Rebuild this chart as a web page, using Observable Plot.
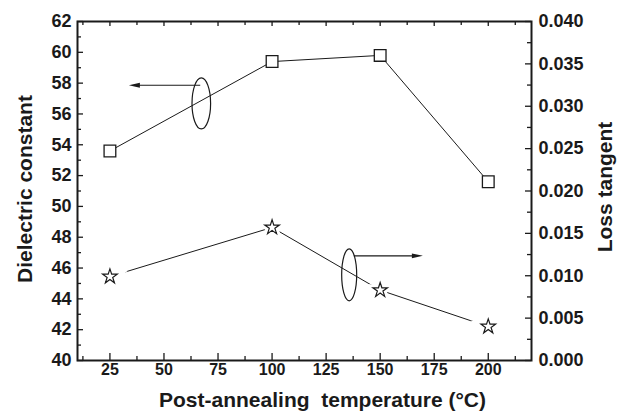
<!DOCTYPE html>
<html><head><meta charset="utf-8">
<script src="https://cdn.jsdelivr.net/npm/d3@7"></script>
<script src="https://cdn.jsdelivr.net/npm/@observablehq/plot@0.6"></script>
<style>body{margin:0;background:#fff} svg{display:block}</style>
</head><body><div id="chart"></div>
<script>
// ---- data ----
const temperatures = [25, 100, 150, 200];
const dielectricConstant = [53.6, 59.4, 59.8, 51.6];
const lossTangent = [0.0099, 0.0157, 0.0083, 0.0040];

const xTicks = [25, 50, 75, 100, 125, 150, 175, 200];
const xMinorTicks = [12.5, 37.5, 62.5, 87.5, 112.5, 137.5, 162.5, 187.5, 212.5];
const leftTicks = [40, 42, 44, 46, 48, 50, 52, 54, 56, 58, 60, 62];
const leftMinorTicks = [41, 43, 45, 47, 49, 51, 53, 55, 57, 59, 61];
const rightTicks = [0, 0.005, 0.010, 0.015, 0.020, 0.025, 0.030, 0.035, 0.040];
const rightMinorTicks = [0.0025, 0.0075, 0.0125, 0.0175, 0.0225, 0.0275, 0.0325, 0.0375];

const xDomain = [10, 220];
const leftDomain = [40, 62];
const rightDomain = [0, 0.04];

const xTitle = "Post-annealing  temperature (°C)";
const leftTitle = "Dielectric constant";
const rightTitle = "Loss tangent";

// annotation anchors (data coordinates)
const ellipseCenters = [{x: 67.5, y: 56.65}, {x: 135.9, y: 45.53}];
const arrowLines = [{x1: 67.0, x2: 34.0, y: 57.83}, {x1: 138.0, x2: 170.0, y: 46.76}];

// ---- helpers ----
const toLeft = v => leftDomain[0] + (v - rightDomain[0]) / (rightDomain[1] - rightDomain[0]) * (leftDomain[1] - leftDomain[0]);

const W = 624, H = 418;
const mL = 77, mR = 93, mT = 21, mB = 58;
const fw = W - mL - mR, fh = H - mT - mB;

const dcData = temperatures.map((t, i) => ({t, v: dielectricConstant[i]}));
const ltData = temperatures.map((t, i) => ({t, v: toLeft(lossTangent[i])}));

const ink = "#1a1a1a";
const tickStyle = {stroke: ink, strokeWidth: 1.3};
const labelStyle = {fontWeight: "bold", fill: ink};

function annotations(index, {x, y}) {
  const g = d3.create("svg:g").attr("stroke", ink).attr("fill", "none").attr("stroke-width", 1.2);
  const sizes = [[9.3, 25.5], [7.5, 26]];
  ellipseCenters.forEach((e, i) => {
    g.append("ellipse").attr("cx", x(e.x)).attr("cy", y(e.y)).attr("rx", sizes[i][0]).attr("ry", sizes[i][1]);
  });
  arrowLines.forEach(a => {
    const X1 = x(a.x1), X2 = x(a.x2), Y = y(a.y);
    const dir = Math.sign(X2 - X1);
    g.append("line").attr("x1", X1).attr("x2", X2 - dir * 8).attr("y1", Y).attr("y2", Y);
    g.append("path").attr("fill", ink).attr("stroke", "none")
      .attr("d", `M${X2},${Y}L${X2 - dir * 11},${Y - 2.4}L${X2 - dir * 11},${Y + 2.4}Z`);
  });
  return g.node();
}

const chart = Plot.plot({
  width: W, height: H,
  marginLeft: mL, marginRight: mR, marginTop: mT, marginBottom: mB,
  style: {fontFamily: "'Liberation Sans', Arial, sans-serif", color: ink, background: "#fff"},
  x: {domain: xDomain, axis: null},
  y: {domain: leftDomain, axis: null},
  marks: [
    // tick labels
    Plot.text(xTicks, {x: d => d, text: d => String(d), frameAnchor: "bottom", dy: 14, textAnchor: "middle", fontSize: 16, ...labelStyle}),
    Plot.text(leftTicks, {y: d => d, text: d => String(d), frameAnchor: "left", dx: -6, textAnchor: "end", fontSize: 18, ...labelStyle}),
    Plot.text(rightTicks, {y: d => toLeft(d), text: d => d.toFixed(3), frameAnchor: "right", dx: 7, textAnchor: "start", fontSize: 18, ...labelStyle}),
    // inward tick marks
    Plot.ruleY(leftTicks, {y: d => d, insetRight: fw - 6, ...tickStyle}),
    Plot.ruleY(leftMinorTicks, {y: d => d, insetRight: fw - 4, ...tickStyle}),
    Plot.ruleY(rightTicks, {y: d => toLeft(d), insetLeft: fw - 6, ...tickStyle}),
    Plot.ruleY(rightMinorTicks, {y: d => toLeft(d), insetLeft: fw - 4, ...tickStyle}),
    Plot.ruleX(xTicks, {x: d => d, insetTop: fh - 7, ...tickStyle}),
    Plot.ruleX(xMinorTicks, {x: d => d, insetTop: fh - 4, ...tickStyle}),
    Plot.ruleX(xTicks, {x: d => d, insetBottom: fh - 5, ...tickStyle}),
    Plot.ruleX(xMinorTicks, {x: d => d, insetBottom: fh - 4, ...tickStyle}),
    // axis titles
    Plot.text([leftTitle], {text: d => d, frameAnchor: "left", dx: -52, dy: -2, rotate: -90, textAnchor: "middle", fontSize: 21, ...labelStyle}),
    Plot.text([rightTitle], {text: d => d, frameAnchor: "right", dx: 74, dy: -4, rotate: -90, textAnchor: "middle", fontSize: 21, ...labelStyle}),
    Plot.text([xTitle], {text: d => d, frameAnchor: "bottom", dx: 18, dy: 46, textAnchor: "middle", fontSize: 21, ...labelStyle}),
    // series
    Plot.line(dcData, {x: "t", y: "v", stroke: ink, strokeWidth: 1}),
    Plot.dot(dcData, {x: "t", y: "v", symbol: "square", r: 6.6, fill: "white", stroke: ink, strokeWidth: 1.3}),
    Plot.line(ltData, {x: "t", y: "v", stroke: ink, strokeWidth: 1}),
    Plot.dot(ltData, {x: "t", y: "v", symbol: "star", r: 4.6, fill: "white", stroke: "white", strokeWidth: 7}),
    Plot.dot(ltData, {x: "t", y: "v", symbol: "star", r: 4.6, fill: "white", stroke: ink, strokeWidth: 1.2}),
    annotations,
    Plot.frame({stroke: ink, strokeWidth: 2})
  ]
});
document.getElementById("chart").append(chart);
</script>
</body></html>
